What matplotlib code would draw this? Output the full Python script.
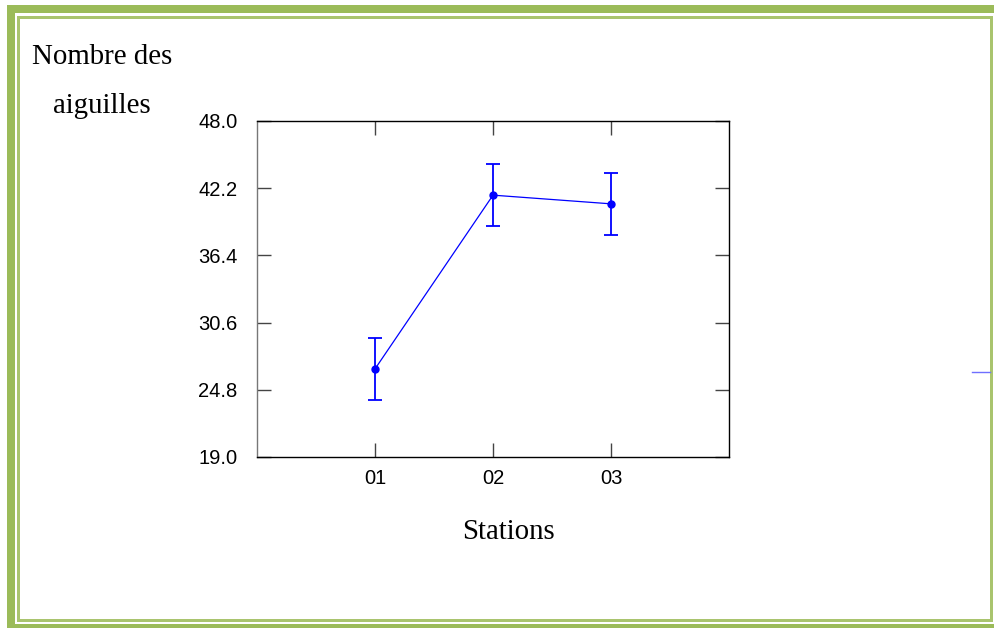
import matplotlib
matplotlib.use('Agg')
import matplotlib.pyplot as plt
from matplotlib.patches import Rectangle
from matplotlib.lines import Line2D

# data
stations = ['01', '02', '03']
xpos = [1, 2, 3]
means = [26.6, 41.6, 40.85]
errs = [2.65, 2.65, 2.65]
yticks = [19.0, 24.8, 30.6, 36.4, 42.2, 48.0]

W, H = 995, 628
fig = plt.figure(figsize=(W / 100, H / 100), dpi=100)

def fx(x):
    return x / W

def fy(y):
    return 1 - y / H

green = '#9BBB59'
green2 = '#A9C46E'

# page border (thick outer band + thin inner line)
def band(x0, y0, x1, y1, c):
    fig.add_artist(Rectangle((fx(x0), fy(y1)), fx(x1) - fx(x0), fy(y0) - fy(y1),
                             transform=fig.transFigure, facecolor=c, edgecolor='none'))

band(7, 5, 15, 628, green)
band(7, 5, 995, 13, green)
band(7, 624, 995, 628, green)
band(17, 16, 20, 622, green2)
band(17, 16, 993, 19, green2)
band(990, 16, 993, 622, green2)
band(17, 619, 993, 622, green2)

# axes
ax = fig.add_axes([fx(257), fy(457), fx(729) - fx(257), fy(121) - fy(457)])
ax.errorbar(xpos, means, yerr=errs, color='#0000FF', lw=0.9, marker='o', ms=5,
            elinewidth=1.3, capsize=5, capthick=1.3)
ax.set_xlim(0, 4)
ax.set_ylim(19, 48)
ax.set_xticks(xpos)
ax.set_xticklabels(stations)
ax.set_yticks(yticks)
ax.set_yticklabels(['%.1f' % v for v in yticks])
ax.tick_params(direction='in', length=10, width=1, color='#444444',
               top=True, right=True, labelsize=14.5, pad=9)
ax.tick_params(axis='y', pad=14)
for lab in ax.get_xticklabels() + ax.get_yticklabels():
    lab.set_family('Liberation Sans')
for s in ax.spines.values():
    s.set_linewidth(1)
ax.spines['left'].set_color('#777777')

# labels (serif)
fig.text(fx(32), fy(64), 'Nombre des', family='Liberation Serif', fontsize=20.8,
         va='baseline', ha='left')
fig.text(fx(53), fy(113), 'aiguilles', family='Liberation Serif', fontsize=20.8,
         va='baseline', ha='left')
fig.text(fx(508), fy(539), 'Stations', family='Liberation Serif', fontsize=20.8,
         va='baseline', ha='center')

# stray legend stub at the right edge
fig.add_artist(Line2D([fx(972), fx(990)], [fy(372), fy(372)], transform=fig.transFigure,
                      color='#6F6FFF', lw=1))

fig.savefig('out.png', dpi=100)
